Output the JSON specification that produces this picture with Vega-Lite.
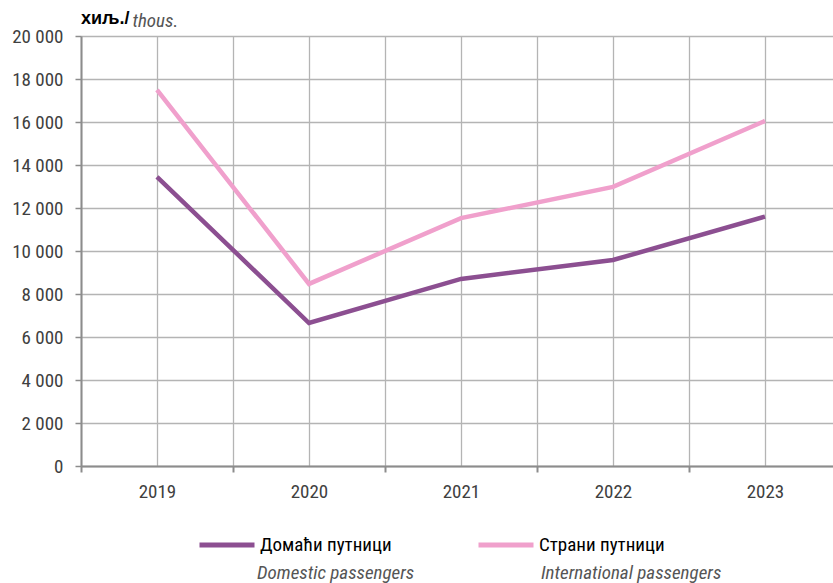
{
  "$schema": "https://vega.github.io/schema/vega-lite/v6.json",
  "autosize": {"type": "none"},
  "width": 752,
  "height": 430,
  "padding": {"left": 81, "top": 36, "right": 0, "bottom": 117},
  "background": "white",
  "config": {
    "view": {"stroke": null},
    "font": "Liberation Sans Narrow, Roboto Condensed, sans-serif"
  },
  "title": {
    "text": "хиљ./",
    "anchor": "start",
    "frame": "group",
    "offset": -17,
    "fontSize": 18,
    "fontWeight": "bold",
    "color": "#000000",
    "font": "Liberation Sans Narrow, sans-serif"
  },
  "data": {
    "values": [
      {"year": 2019, "series": "Домаћи путници", "en": "Domestic passengers", "value": 13450},
      {"year": 2020, "series": "Домаћи путници", "en": "Domestic passengers", "value": 6650},
      {"year": 2021, "series": "Домаћи путници", "en": "Domestic passengers", "value": 8700},
      {"year": 2022, "series": "Домаћи путници", "en": "Domestic passengers", "value": 9580},
      {"year": 2023, "series": "Домаћи путници", "en": "Domestic passengers", "value": 11600},
      {"year": 2019, "series": "Страни путници", "en": "International passengers", "value": 17490},
      {"year": 2020, "series": "Страни путници", "en": "International passengers", "value": 8470},
      {"year": 2021, "series": "Страни путници", "en": "International passengers", "value": 11530},
      {"year": 2022, "series": "Страни путници", "en": "International passengers", "value": 12980},
      {"year": 2023, "series": "Страни путници", "en": "International passengers", "value": 16050}
    ]
  },
  "mark": {"type": "line", "strokeWidth": 4.5, "strokeCap": "butt", "strokeJoin": "miter"},
  "encoding": {
    "x": {
      "field": "year",
      "type": "quantitative",
      "scale": {"domain": [2018.5, 2023.4474], "nice": false, "zero": false},
      "axis": {
        "title": null,
        "values": [2018.5, 2019, 2019.5, 2020, 2020.5, 2021, 2021.5, 2022, 2022.5, 2023, 2023.5],
        "labelExpr": "datum.value % 1 === 0 ? format(datum.value, 'd') : ''",
        "labelOverlap": false,
        "labelFlush": false,
        "labelFontSize": 19,
        "labelColor": "#404040",
        "labelPadding": 10,
        "grid": true,
        "gridColor": "#b4b4b4",
        "gridWidth": 1.3,
        "domainColor": "#8c8c8c",
        "domainWidth": 2,
        "tickColor": "#8c8c8c",
        "tickWidth": 2,
        "tickSize": 6,
        "tickOpacity": {"condition": {"test": "datum.value % 1 !== 0", "value": 1}, "value": 0}
      }
    },
    "y": {
      "field": "value",
      "type": "quantitative",
      "scale": {"domain": [0, 20000], "nice": false},
      "axis": {
        "title": "thous.",
        "titleAngle": 0,
        "titleAlign": "left",
        "titleBaseline": "alphabetic",
        "titleX": 51,
        "titleY": -10,
        "titleFontStyle": "italic",
        "titleFontWeight": "normal",
        "titleFontSize": 19,
        "titleColor": "#555555",
        "values": [0, 2000, 4000, 6000, 8000, 10000, 12000, 14000, 16000, 18000, 20000],
        "labelExpr": "replace(format(datum.value, ','), ',', ' ')",
        "labelFontSize": 19,
        "labelColor": "#404040",
        "labelPadding": 12,
        "grid": true,
        "gridColor": "#b4b4b4",
        "gridWidth": 1.3,
        "domainColor": "#8c8c8c",
        "domainWidth": 2,
        "tickColor": "#8c8c8c",
        "tickWidth": 1.5,
        "tickSize": 6
      }
    },
    "color": {
      "field": "series",
      "type": "nominal",
      "scale": {"domain": ["Домаћи путници", "Страни путници"], "range": ["#8c4f91", "#f0a0cc"]},
      "legend": {
        "title": null,
        "orient": "none",
        "direction": "horizontal",
        "legendX": 116,
        "legendY": 479,
        "symbolType": "stroke",
        "symbolSize": 3025,
        "symbolStrokeWidth": 5,
        "labelFontSize": 19,
        "labelColor": "#000000",
        "labelOffset": 3,
        "columnPadding": 76,
        "labelLimit": 300
      }
    },
    "opacity": {
      "field": "en",
      "type": "nominal",
      "scale": {"domain": ["Domestic passengers", "International passengers"], "range": [1, 1]},
      "legend": {
        "title": null,
        "orient": "none",
        "direction": "horizontal",
        "legendX": 116,
        "legendY": 508,
        "symbolType": "stroke",
        "symbolSize": 3025,
        "symbolOpacity": 0,
        "symbolStrokeColor": "white",
        "labelFontSize": 19,
        "labelFontStyle": "italic",
        "labelColor": "#555555",
        "labelOffset": 3,
        "columnPadding": 64,
        "labelLimit": 300
      }
    }
  }
}
